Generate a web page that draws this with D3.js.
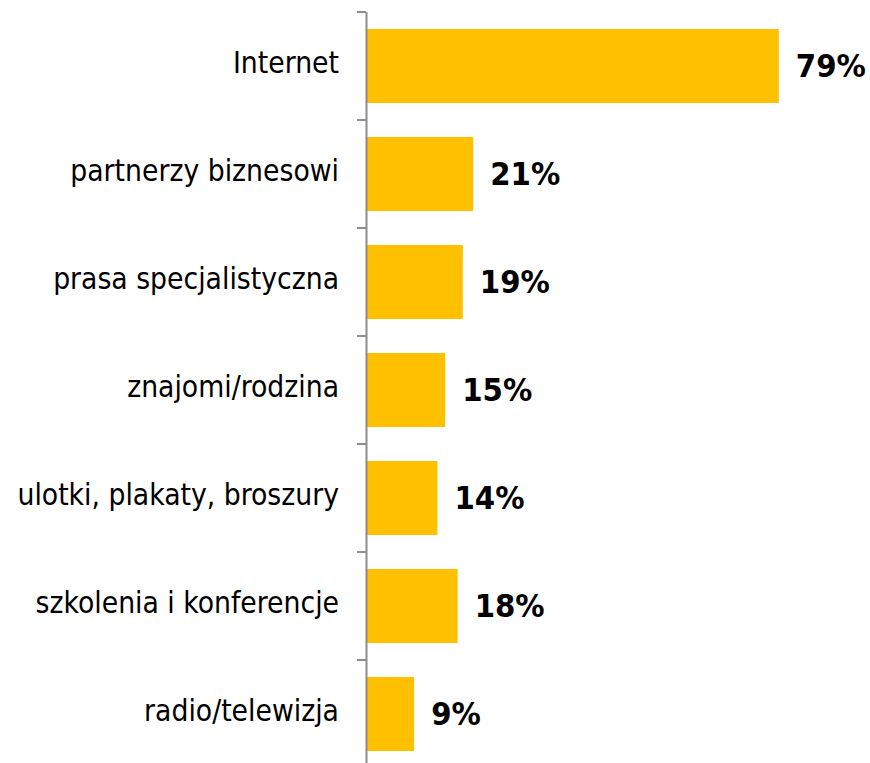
<!DOCTYPE html>
<html><head><meta charset="utf-8">
<script src="https://cdn.jsdelivr.net/npm/d3@7"></script>
<style>body{margin:0;background:#fff}</style>
</head><body>
<svg id="c" width="870" height="763"></svg>
<script>
const categories = ["Internet","partnerzy biznesowi","prasa specjalistyczna","znajomi/rodzina","ulotki, plakaty, broszury","szkolenia i konferencje","radio/telewizja"];
const values = [79.5, 20.5, 18.5, 15.1, 13.6, 17.5, 9.1];
const valueLabels = ["79%","21%","19%","15%","14%","18%","9%"];

const svg = d3.select("#c");
const x0 = 366;
const x = d3.scaleLinear().domain([0,100]).range([x0+1, x0+1+518]);
const y = d3.scaleBand().domain(categories).range([12, 768]).paddingInner(0.315).paddingOuter(0.1575);
const FONT = "'DejaVu Sans Condensed', 'DejaVu Sans', sans-serif";

svg.selectAll("rect.bar").data(values).join("rect")
  .attr("class","bar")
  .attr("x", x(0)).attr("y", (d,i)=>y(categories[i]))
  .attr("width", d=>x(d)-x(0)).attr("height", y.bandwidth())
  .attr("fill","#FFC000");

// axis
svg.append("line").attr("x1",x0+0.5).attr("x2",x0+0.5).attr("y1",12).attr("y2",763)
  .attr("stroke","#8c8c8c").attr("stroke-width",2);
const step = y.step();
d3.range(categories.length).forEach(i=>{
  const ty = Math.round(12 + i*step);
  svg.append("line").attr("x1",357).attr("x2",x0).attr("y1",ty).attr("y2",ty)
    .attr("stroke","#8c8c8c").attr("stroke-width",2);
});

svg.selectAll("text.cat").data(categories).join("text")
  .attr("class","cat")
  .attr("x", 339).attr("y", d=>y(d)+y.bandwidth()/2 + 7)
  .attr("text-anchor","end")
  .attr("font-family",FONT).attr("font-stretch","condensed").attr("font-size",29.7)
  .attr("fill","#000").text(d=>d);

svg.selectAll("text.val").data(values).join("text")
  .attr("class","val")
  .attr("x", d=>x(d)+17).attr("y",(d,i)=>y(categories[i])+y.bandwidth()/2 + 11.3)
  .attr("font-family",FONT).attr("font-stretch","condensed").attr("font-weight","bold").attr("font-size",32.5)
  .attr("fill","#000").text((d,i)=>valueLabels[i]);
</script>
</body></html>
